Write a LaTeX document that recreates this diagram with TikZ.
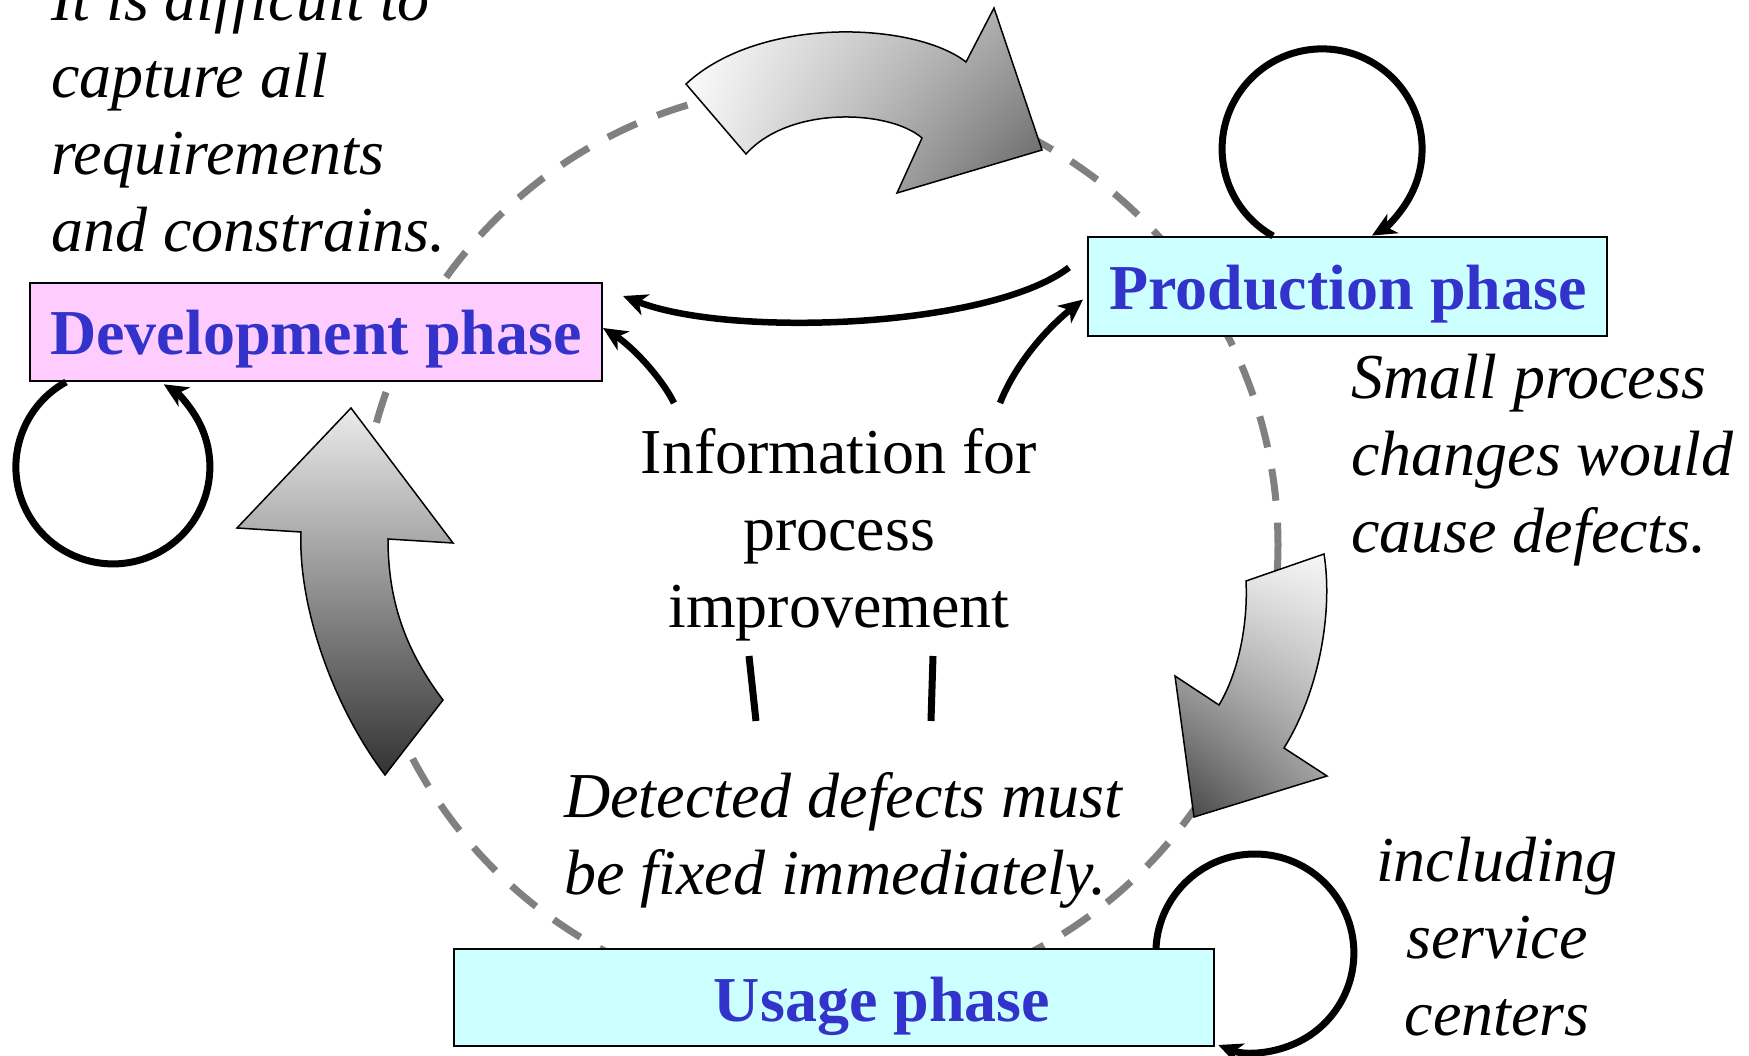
\documentclass[tikz,border=0pt]{standalone}
\usepackage{fontspec}
\setmainfont{Liberation Serif}
\usetikzlibrary{arrows.meta,shadings}
\definecolor{phaseblue}{RGB}{51,51,204}
\definecolor{devpink}{RGB}{255,204,255}
\definecolor{opcyan}{RGB}{204,255,255}
\definecolor{ringgray}{RGB}{128,128,128}
% lines of a multi-line label, baseline on the first line
\newcommand{\txtlines}[2]{\begin{tabular}[t]{@{}#1@{}}#2\end{tabular}}

\begin{document}
\begin{tikzpicture}[x=1pt,y=-1pt,
  phasebox/.style={draw=black,line width=2pt,inner sep=0pt},
  phaselabel/.style={font=\fontsize{64}{77}\selectfont\bfseries,text=phaseblue,inner sep=0pt,anchor=base},
  note/.style={font=\fontsize{64}{77}\selectfont\itshape,inner sep=0pt},
  plaintext/.style={font=\fontsize{64}{77}\selectfont,inner sep=0pt},
  ring/.style={draw=ringgray,line width=7pt,dash pattern=on 32pt off 22pt},
  blockarrow/.style={draw=black,line width=1.5pt,line join=miter},
  flow/.style={line width=6.5pt,-{Stealth[length=24pt,width=22pt,inset=7pt]}},
  selfloop/.style={line width=7pt,-{Stealth[length=24pt,width=22pt,inset=7pt]}},
  stub/.style={line width=7pt}
]
\useasboundingbox (0,0) rectangle (1749,1056);
\clip (0,0) rectangle (1749,1056);

% the life-cycle ring
\draw[ring] (819,545) circle[radius=459];

% phase boxes
\node[phasebox,fill=devpink,minimum width=572pt,minimum height=98pt] (dev) at (316,332) {};
\node[phasebox,fill=opcyan,minimum width=519pt,minimum height=99pt] (prod) at (1347.5,286.5) {};
\node[phasebox,fill=opcyan,minimum width=760pt,minimum height=97pt] (use) at (834,997.5) {};

\node[phaselabel] (devlabel) at (316,355) {Development phase};
\node[phaselabel] (prodlabel) at (1348,310) {Production phase};
\node[phaselabel] (uselabel) at (882,1021) {Usage phase};

% shaded block arrows along the ring
\shadedraw[blockarrow,upper left=white,lower left=black!4,upper right=black!35,lower right=black!62]
  (686,84) .. controls (760,15) and (915,22) .. (966,62) -- (994,8) -- (1042,150)
  -- (897,193) -- (922,138) .. controls (890,110) and (790,105) .. (746,154) -- cycle;
\shadedraw[blockarrow,upper left=black!8,upper right=black!3,lower left=black!75,lower right=black!40]
  (1324,554) .. controls (1333,610) and (1320,690) .. (1284,748) -- (1327,776) -- (1194,817)
  -- (1175,676) -- (1219,705) .. controls (1240,670) and (1248,620) .. (1246,581) -- cycle;
\shadedraw[blockarrow,top color=black!8,bottom color=black!80]
  (351,408) -- (453,543) -- (388,539) .. controls (388,600) and (405,650) .. (443,700)
  -- (385,775) .. controls (332,705) and (298,605) .. (301,532) -- (237,528) -- cycle;

% comments
\node[note,anchor=base west] (hard) at (51,21)
  {\txtlines{l}{It is difficult to\\capture all\\requirements\\and constrains.}};
\node[note,anchor=base west] (small) at (1351,399)
  {\txtlines{l}{Small process\\changes would\\cause defects.}};
\node[note,anchor=base] (service) at (1497,881)
  {\txtlines{c}{including\\service\\centers}};
\node[note,anchor=base west] (fixnow) at (564,817)
  {\txtlines{l}{Detected defects must\\be fixed immediately.}};
\node[plaintext,anchor=base] (info) at (839,474)
  {\txtlines{c}{Information for\\process\\improvement}};

% feedback arrows
\coordinate (infoL) at (674,403);
\coordinate (infoR) at (1000,403);
\draw[flow] ([xshift=-18pt,yshift=19pt]prod.west) .. controls (990,328) and (730,338) .. ([xshift=20pt,yshift=36pt]dev.east);
\draw[flow] (infoL) .. controls (660,375) and (630,345) .. ([yshift=4pt]dev.east);
\draw[flow] (infoR) .. controls (1015,365) and (1045,330) .. ([xshift=-4pt,yshift=-13pt]prod.west);

% short strokes under the information label
\coordinate (s1a) at (749,656);
\coordinate (s1b) at (756,721);
\coordinate (s2a) at (933,656);
\coordinate (s2b) at (931,721);
\draw[stub] (s1a) -- (s1b);
\draw[stub] (s2a) -- (s2b);

% self loops of each phase
\draw[selfloop] ([xshift=37pt]dev.south west) arc[start angle=241.1,end angle=-58.4,radius=97];
\draw[selfloop] ([xshift=186pt]prod.north west) arc[start angle=119.4,end angle=420.1,radius=100];
\draw[selfloop] ([xshift=-59pt]use.north east) arc[start angle=182.9,end angle=471.7,radius=99];
\end{tikzpicture}
\end{document}
